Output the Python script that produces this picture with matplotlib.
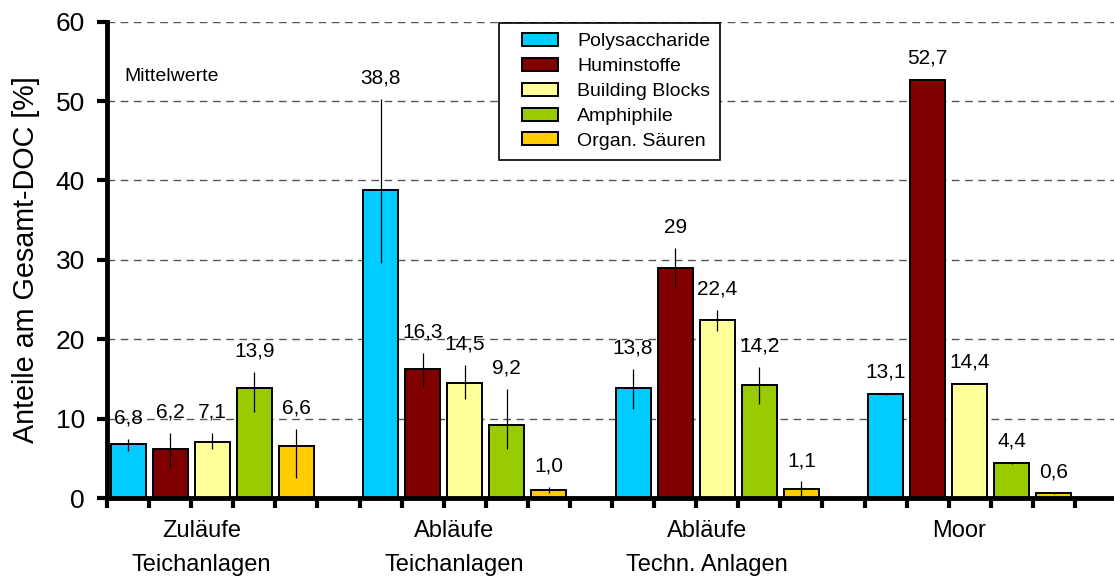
import numpy as np
import matplotlib.pyplot as plt
import matplotlib.patches as mpatches
from matplotlib.legend_handler import HandlerPatch

plt.rcParams['font.family'] = ['Liberation Sans', 'DejaVu Sans']

groups = ["Zuläufe\nTeichanlagen", "Abläufe\nTeichanlagen", "Abläufe\nTechn. Anlagen", "Moor"]
fractions = ["Polysaccharide", "Huminstoffe", "Building Blocks", "Amphiphile", "Organ. Säuren"]
colors = ["#00CCFF", "#800000", "#FFFF99", "#99CC00", "#FFCC00"]

# mean share of each DOC fraction per sample group [%]
polysaccharide = [6.8, 38.8, 13.8, 13.1]
huminstoffe = [6.2, 16.3, 29, 52.7]
building_blocks = [7.1, 14.5, 22.4, 14.4]
amphiphile = [13.9, 9.2, 14.2, 4.4]
organ_saeuren = [6.6, 1.0, 1.1, 0.6]

# spread around the mean (upper / lower)
up_polysaccharide = [0.6, 11.5, 2.5, 0.1]
lo_polysaccharide = [0.9, 9.2, 2.6, 0.1]
up_huminstoffe = [2.0, 2.0, 2.5, 0.1]
lo_huminstoffe = [2.4, 2.3, 2.5, 0.1]
up_building_blocks = [1.1, 2.3, 1.3, 0.1]
lo_building_blocks = [0.9, 2.0, 1.3, 0.1]
up_amphiphile = [2.0, 4.5, 2.3, 0.1]
lo_amphiphile = [3.1, 3.0, 2.3, 0.1]
up_organ_saeuren = [2.1, 0.4, 1.0, 0.1]
lo_organ_saeuren = [4.1, 0.4, 1.1, 0.1]

means = [polysaccharide, huminstoffe, building_blocks, amphiphile, organ_saeuren]
err_up = [up_polysaccharide, up_huminstoffe, up_building_blocks, up_amphiphile, up_organ_saeuren]
err_lo = [lo_polysaccharide, lo_huminstoffe, lo_building_blocks, lo_amphiphile, lo_organ_saeuren]

# each group takes 6 slots: 5 bars + 1 empty
n_slots = 6
group_pos = np.arange(len(groups)) * n_slots


def fmt(v):
    return str(v).replace(".", ",")


def legend_box(legend, orig_handle, xdescent, ydescent, width, height, fontsize):
    # colour box indented a little from the legend border
    shift = 0.7 * fontsize
    return mpatches.Rectangle((-xdescent + shift, -ydescent), width - shift, height)


fig = plt.figure(figsize=(11.14, 5.82), dpi=100)
ax = fig.add_axes([0.0961, 0.1443, 0.9066, 0.8184])

for k in range(len(fractions)):
    x = group_pos + k + 0.5
    ax.bar(x, means[k], width=0.83, color=colors[k], edgecolor="black",
           linewidth=1.4, zorder=2)
    ax.errorbar(x, means[k], yerr=[err_lo[k], err_up[k]], fmt="none", ecolor="black",
                elinewidth=0.9, capsize=0, zorder=3)
    for xi, v, e in zip(x, means[k], err_up[k]):
        ax.annotate(fmt(v), (xi, v + e), xytext=(0, 15), textcoords="offset points",
                    ha="center", va="center", fontsize=15)

ax.set_xlim(0, len(groups) * n_slots)
ax.set_ylim(0, 60)

ax.yaxis.grid(True, linestyle=(0, (5.5, 4)), color="#555555", linewidth=1.0)
ax.set_axisbelow(True)

for s in ["top", "right"]:
    ax.spines[s].set_visible(False)
for s in ["left", "bottom"]:
    ax.spines[s].set_linewidth(3.5)

ax.set_yticks(np.arange(0, 61, 10))
ax.tick_params(axis="y", direction="out", length=7, width=3, pad=9, labelsize=19)

ax.set_xticks(group_pos + 2.25)
ax.set_xticklabels(groups, fontsize=17, linespacing=1.7)
ax.set_xticks(np.arange(0, len(groups) * n_slots + 1), minor=True)
ax.tick_params(axis="x", which="major", length=0, pad=16)
ax.tick_params(axis="x", which="minor", direction="out", length=7, width=3)

ax.set_ylabel("Anteile am Gesamt-DOC [%]", fontsize=20.7)
ax.yaxis.set_label_coords(-0.066, 0.5)

ax.text(0.017, 0.884, "Mittelwerte", transform=ax.transAxes, fontsize=14, va="center")

handles = [mpatches.Patch(facecolor=c, edgecolor="black", linewidth=1.4) for c in colors]
leg = ax.legend(handles, fractions, loc="upper left", bbox_to_anchor=(0.388, 0.997),
                fontsize=14, frameon=True, fancybox=False, edgecolor="black",
                framealpha=1, borderaxespad=0, handlelength=2.55, handleheight=0.65,
                handletextpad=0.96, labelspacing=0.39, borderpad=0.5,
                handler_map={mpatches.Patch: HandlerPatch(patch_func=legend_box)})
leg.get_frame().set_linewidth(1.2)

fig.savefig("out.png", dpi=100)
